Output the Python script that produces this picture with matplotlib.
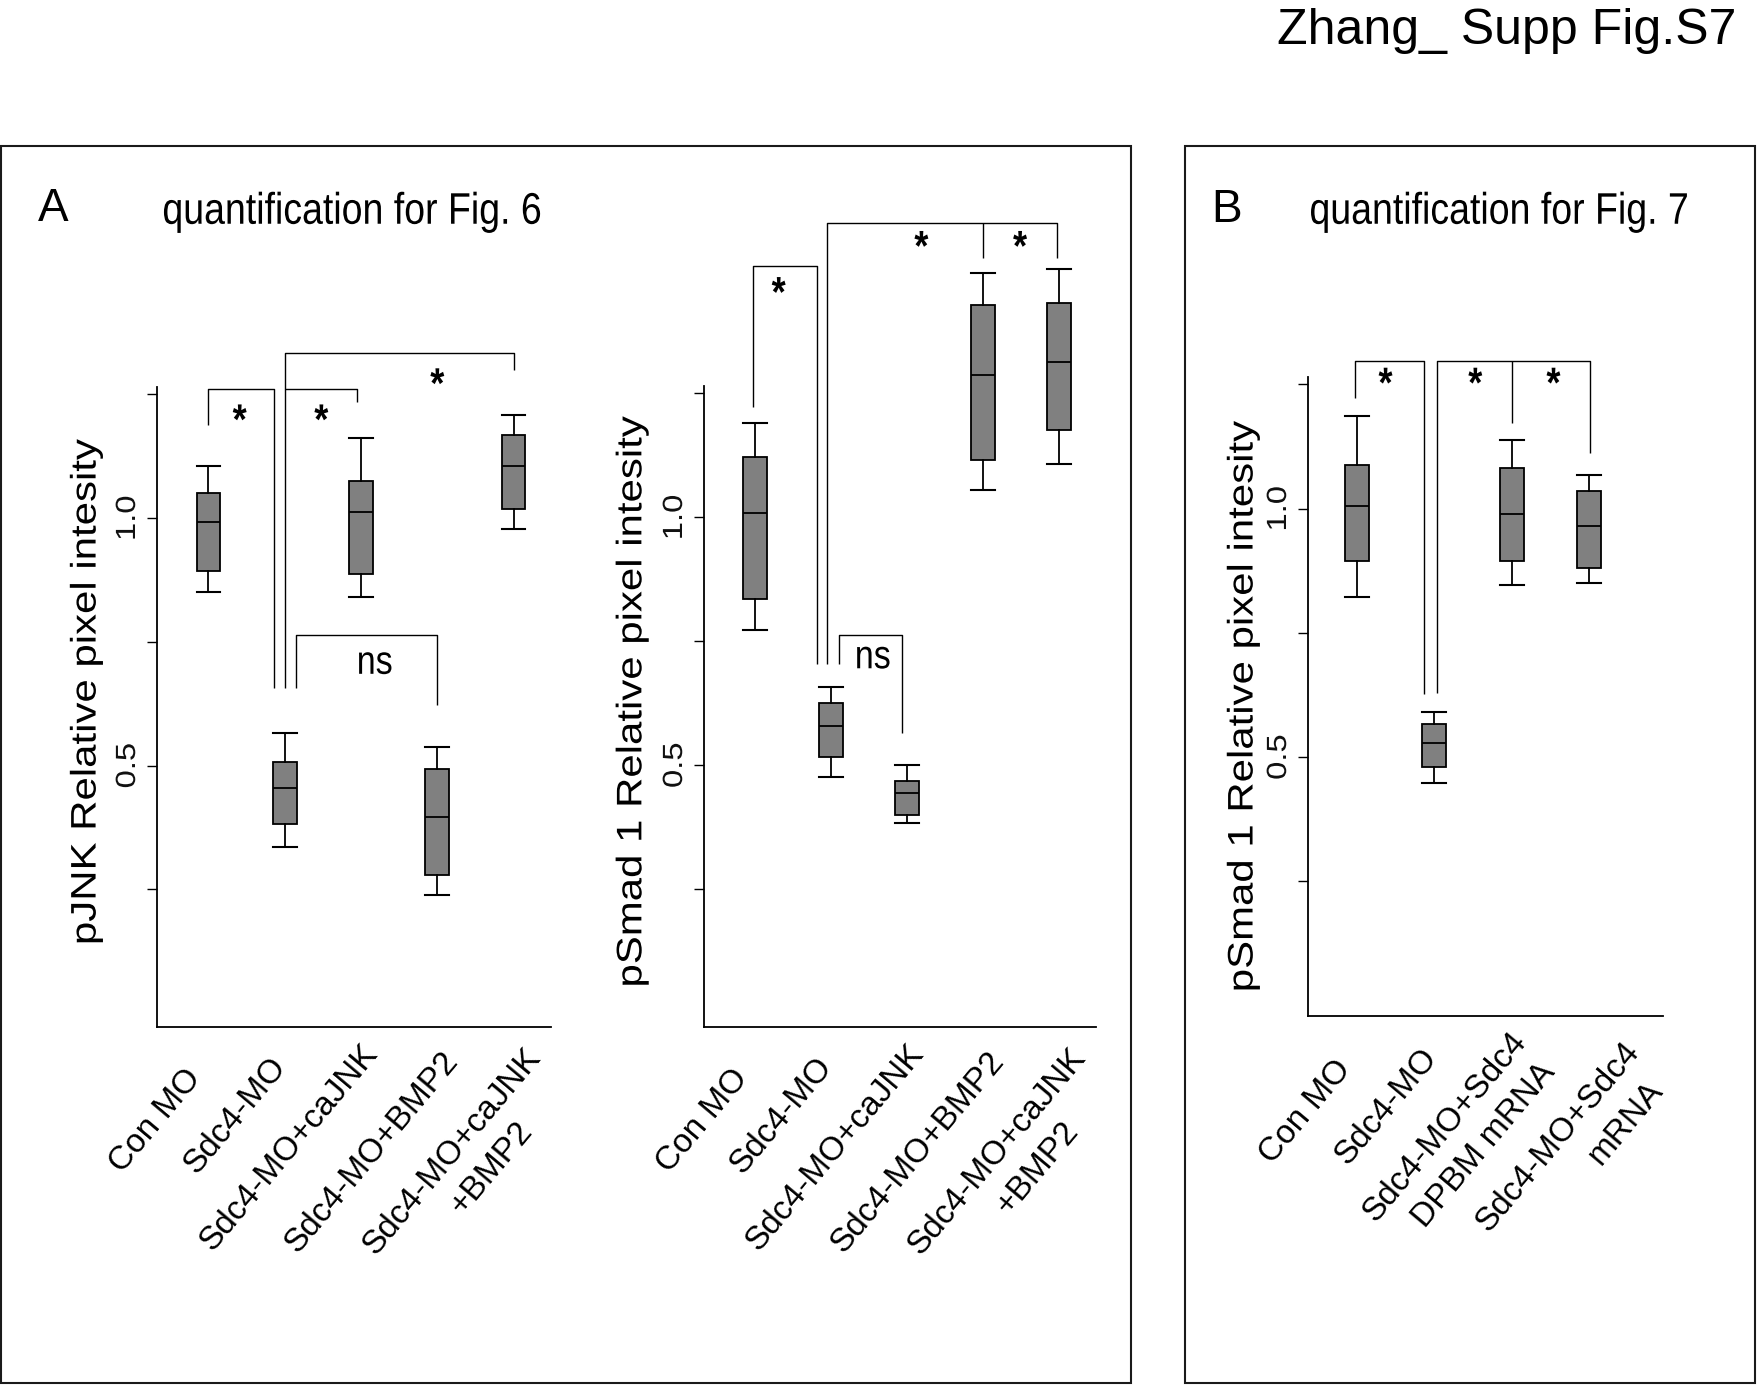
import matplotlib
matplotlib.use("Agg")
import matplotlib.pyplot as plt
from matplotlib.patches import Rectangle
from matplotlib.patheffects import AbstractPathEffect
from matplotlib.transforms import Affine2D

# ---------------- data ----------------
fig_title = "Zhang_ Supp Fig.S7"

cats_A = ["Con MO", "Sdc4-MO", "Sdc4-MO+caJNK", "Sdc4-MO+BMP2", "Sdc4-MO+caJNK\n+BMP2"]
cats_B = ["Con MO", "Sdc4-MO", "Sdc4-MO+Sdc4\nDPBM mRNA", "Sdc4-MO+Sdc4\nmRNA"]

ylabel_jnk = "pJNK Relative pixel intesity"
ylabel_smad = "pSmad 1 Relative pixel intesity"

# pJNK (Fig. 6)
jnk_whishi = [1.106, 0.566, 1.162, 0.537, 1.209]
jnk_q3 = [1.050, 0.508, 1.076, 0.493, 1.169]
jnk_med = [0.992, 0.454, 1.012, 0.396, 1.106]
jnk_q1 = [0.894, 0.382, 0.888, 0.280, 1.019]
jnk_whislo = [0.851, 0.336, 0.840, 0.238, 0.978]

# pSmad1 (Fig. 6)
smad6_whishi = [1.191, 0.657, 0.500, 1.493, 1.501]
smad6_q3 = [1.122, 0.625, 0.469, 1.429, 1.432]
smad6_med = [1.008, 0.579, 0.445, 1.287, 1.313]
smad6_q1 = [0.836, 0.517, 0.399, 1.115, 1.176]
smad6_whislo = [0.773, 0.477, 0.384, 1.055, 1.107]

# pSmad1 (Fig. 7)
smad7_whishi = [1.186, 0.590, 1.139, 1.067]
smad7_q3 = [1.088, 0.566, 1.081, 1.036]
smad7_med = [1.006, 0.529, 0.990, 0.965]
smad7_q1 = [0.895, 0.480, 0.894, 0.881]
smad7_whislo = [0.823, 0.448, 0.846, 0.851]

yticks = [0.25, 0.5, 0.75, 1.0, 1.25]
ytick_labels = ["", "0.5", "", "1.0", ""]

# significance brackets: (x list, y list)
jnk_brackets = [
    ([1.0, 1.0, 1.86, 1.86], [1.189, 1.260, 1.260, 0.656]),
    ([2.0, 2.0, 5.0, 5.0], [0.656, 1.333, 1.333, 1.299]),
    ([2.0, 2.95, 2.95], [1.260, 1.260, 1.235]),
    ([2.15, 2.15, 4.0, 4.0], [0.656, 0.764, 0.764, 0.622]),
]
jnk_marks = [("*", 1.41, 1.208), ("*", 2.48, 1.208), ("*", 4.0, 1.281), ("ns", 3.18, 0.706)]

smad6_brackets = [
    ([0.97, 0.97, 1.82, 1.82], [1.223, 1.507, 1.507, 0.704]),
    ([1.95, 1.95, 4.97, 4.97], [0.704, 1.594, 1.594, 1.524]),
    ([4.0, 4.0], [1.594, 1.524]),
    ([2.11, 2.11, 2.93, 2.93], [0.704, 0.762, 0.762, 0.565]),
]
smad6_marks = [("*", 1.31, 1.463), ("*", 3.19, 1.556), ("*", 4.49, 1.556), ("ns", 2.55, 0.716)]

smad7_brackets = [
    ([0.98, 0.98, 1.87, 1.87], [1.222, 1.297, 1.297, 0.627]),
    ([2.04, 2.04, 4.01, 4.01], [0.630, 1.297, 1.297, 1.112]),
    ([3.0, 3.0], [1.297, 1.173]),
]
smad7_marks = [("*", 1.37, 1.262), ("*", 2.53, 1.262), ("*", 3.54, 1.262)]

# ---------------- style / layout ----------------
W, H, DPI = 1758, 1385, 100
STRETCH = 1.18
plt.rcParams["font.family"] = ["Liberation Sans", "DejaVu Sans"]

BOX_FACE = "#808080"


class VStretch(AbstractPathEffect):
    """Stretch rendered glyphs vertically about their own centre."""

    def __init__(self, s=STRETCH):
        super().__init__()
        self.s = s

    def draw_path(self, renderer, gc, tpath, affine, rgbFace=None):
        ext = tpath.get_extents(affine)
        cx = 0.5 * (ext.x0 + ext.x1)
        cy = 0.5 * (ext.y0 + ext.y1)
        aff = affine + Affine2D().translate(-cx, -cy).scale(1.0, self.s).translate(cx, cy)
        renderer.draw_path(gc, tpath, aff, rgbFace)


VS = [VStretch()]

fig = plt.figure(figsize=(W / DPI, H / DPI), dpi=DPI)


def fx(x):
    return x / W


def fy(y):
    return 1 - y / H


def add_axes_px(l, r, t, b):
    return fig.add_axes([fx(l), fy(b), (r - l) / W, (b - t) / H])


# panel frames
for (l, t, r, b) in [(1, 146, 1131, 1383), (1185, 146, 1755, 1383)]:
    fig.add_artist(Rectangle((fx(l), fy(b)), (r - l) / W, (b - t) / H,
                             transform=fig.transFigure, fill=False,
                             edgecolor="#1a1a1a", linewidth=1.5))

fig.text(fx(1736), fy(44), fig_title, ha="right", va="baseline", fontsize=36)
fig.text(fx(53), fy(209), "A", ha="center", va="center", fontsize=33)
fig.text(fx(1227), fy(210), "B", ha="center", va="center", fontsize=33)
fig.text(fx(352), fy(212), "quantification for Fig. 6", ha="center", va="center",
         fontsize=27, path_effects=VS)
fig.text(fx(1499), fy(212), "quantification for Fig. 7", ha="center", va="center",
         fontsize=27, path_effects=VS)

offs_A = [[(-53.2, 93.9)], [(-49.7, 88.4)], [(-71.8, 120.9)], [(-65.2, 125.5)],
          [(-61.9, 124.3), (-21.9, 140.9)]]
offs_B = [[(-51.1, 95.7)], [(-48.5, 90.7)], [(-66.7, 110.7), (-27.9, 129.8)],
          [(-31.5, 120.7), (36.8, 106.5)]]

panels = [
    dict(box=(157, 551, 387, 1027), ylim=(-0.028, 1.265), xlim=(0.326, 5.49),
         stats=(jnk_whislo, jnk_q1, jnk_med, jnk_q3, jnk_whishi), cats=cats_A, offs=offs_A,
         brackets=jnk_brackets, marks=jnk_marks, ylabel=ylabel_jnk, ylab_xy=(-0.180, 0.523)),
    dict(box=(704, 1096, 386, 1027), ylim=(-0.028, 1.265), xlim=(0.326, 5.49),
         stats=(smad6_whislo, smad6_q1, smad6_med, smad6_q3, smad6_whishi), cats=cats_A, offs=offs_A,
         brackets=smad6_brackets, marks=smad6_marks, ylabel=ylabel_smad, ylab_xy=(-0.184, 0.507)),
    dict(box=(1308, 1663, 377, 1016), ylim=(-0.021, 1.265), xlim=(0.368, 4.955),
         stats=(smad7_whislo, smad7_q1, smad7_med, smad7_q3, smad7_whishi), cats=cats_B, offs=offs_B,
         brackets=smad7_brackets, marks=smad7_marks, ylabel=ylabel_smad, ylab_xy=(-0.183, 0.484)),
]

STAR_FS = 26
NS_FS = 24.5
XLAB_FS = 24

for p in panels:
    ax = add_axes_px(*p["box"])
    lo, q1, med, q3, hi = p["stats"]
    stats = [dict(whislo=a, q1=b, med=c, q3=d, whishi=e, fliers=[])
             for a, b, c, d, e in zip(lo, q1, med, q3, hi)]
    n = len(stats)
    pos = list(range(1, n + 1))
    res = ax.bxp(stats, positions=pos, widths=0.31, capwidths=0.31, patch_artist=True,
                 showfliers=False, manage_ticks=False,
                 boxprops=dict(facecolor=BOX_FACE, edgecolor="black", linewidth=1.3),
                 whiskerprops=dict(color="black", linewidth=1.3),
                 capprops=dict(color="black", linewidth=1.5),
                 medianprops=dict(color="black", linewidth=1.3))
    for arts in res.values():
        for a in arts:
            a.set_clip_on(False)

    ax.set_xlim(*p["xlim"])
    ax.set_ylim(*p["ylim"])
    ax.set_xticks([])
    ax.set_yticks(yticks)
    ax.set_yticklabels([])
    ax.tick_params(axis="y", length=7.2, width=1.0, direction="out", color="black")
    for s in ("top", "right"):
        ax.spines[s].set_visible(False)
    for s in ("left", "bottom"):
        ax.spines[s].set_linewidth(1.3)
    ax.patch.set_alpha(0)

    # y tick labels (rotated, as in R)
    for v, s in zip(yticks, ytick_labels):
        if s:
            ax.annotate(s, xy=(0, v), xycoords=("axes fraction", "data"),
                        xytext=(-29, 0), textcoords="offset pixels", rotation=90,
                        ha="center", va="center", fontsize=20, color="#111111",
                        annotation_clip=False, path_effects=VS)

    ax.set_ylabel(p["ylabel"], fontsize=25.6, va="center", path_effects=VS)
    ax.yaxis.set_label_coords(*p["ylab_xy"])

    # x category labels, rotated (one text per line)
    for i, (lab, offs) in enumerate(zip(p["cats"], p["offs"])):
        for line, (dx, dy) in zip(lab.split("\n"), offs):
            ax.annotate(line, xy=(pos[i], 0), xycoords=("data", "axes fraction"),
                        xytext=(dx, -dy), textcoords="offset pixels", rotation=50,
                        rotation_mode="anchor", ha="center", va="center", fontsize=XLAB_FS,
                        annotation_clip=False)

    for xs, ys in p["brackets"]:
        ax.plot(xs, ys, color="black", linewidth=1.0, clip_on=False, solid_capstyle="butt")

    for txt, x, y in p["marks"]:
        if txt == "*":
            ax.annotate(txt, xy=(x, y), xytext=(0, -0.16 * STAR_FS * DPI / 72),
                        textcoords="offset pixels", ha="center", va="center",
                        fontsize=STAR_FS, fontweight="bold", annotation_clip=False,
                        path_effects=VS)
        else:
            ax.annotate(txt, xy=(x, y), ha="center", va="center", fontsize=NS_FS,
                        annotation_clip=False, path_effects=VS)

fig.savefig("out.png", dpi=DPI)
